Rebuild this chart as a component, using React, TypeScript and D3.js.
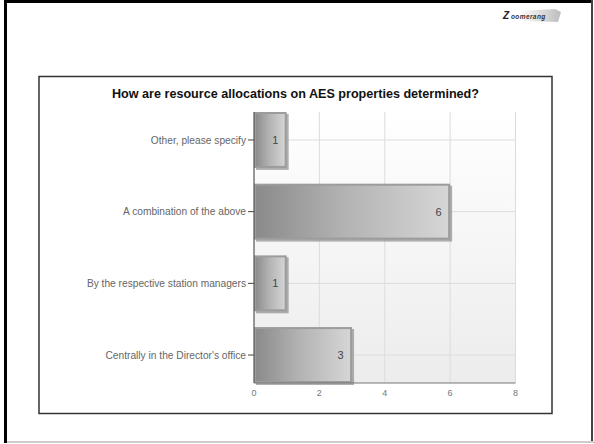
import * as d3 from 'd3';

const categories = [
  'Other, please specify',
  'A combination of the above',
  'By the respective station managers',
  "Centrally in the Director's office",
];
const counts = [1, 6, 1, 3];
const xTicks = [0, 2, 4, 6, 8];
const title = 'How are resource allocations on AES properties determined?';

const W = 594;
const H = 444;
const plot = { left: 254, right: 515.5, top: 112, bottom: 383 };
const font = 'Arial, "Liberation Sans", sans-serif';

export default function App() {
  const x = d3.scaleLinear().domain([0, 8]).range([plot.left, plot.right]);
  const y = d3
    .scaleBand<string>()
    .domain(categories)
    .range([plot.top, plot.bottom])
    .paddingInner(0.22)
    .paddingOuter(0);
  const bw = y.bandwidth();
  const data = categories.map((c, i) => ({ label: c, value: counts[i] }));

  return (
    <svg
      width={W}
      height={H}
      style={{ position: 'absolute', left: 0, top: 0, background: '#fff' }}
      fontFamily={font}
    >
      <defs>
        <linearGradient id="barGrad" x1="0" x2="1" y1="0" y2="0">
          <stop offset="0" stopColor="#8a8a8a" />
          <stop offset="0.45" stopColor="#b2b2b2" />
          <stop offset="1" stopColor="#d6d6d6" />
        </linearGradient>
        <linearGradient id="plotGrad" x1="0" x2="0" y1="0" y2="1">
          <stop offset="0" stopColor="#ffffff" />
          <stop offset="1" stopColor="#ececec" />
        </linearGradient>
        <linearGradient id="logoGrad" x1="0" x2="1" y1="0" y2="0">
          <stop offset="0" stopColor="#ffffff" />
          <stop offset="1" stopColor="#bdbdbd" />
        </linearGradient>
      </defs>

      {/* slide frame */}
      <line x1={5.5} x2={5.5} y1={0} y2={443} stroke="#000" strokeWidth={3} />
      <line x1={4} x2={593} y1={1.5} y2={1.5} stroke="#000" strokeWidth={3} />
      <line x1={592} x2={592} y1={0} y2={441} stroke="#444" strokeWidth={2} />
      <line x1={7} x2={594} y1={442} y2={442} stroke="#ccc" strokeWidth={2} />

      {/* logo */}
      <g transform="translate(503,8)">
        <path d="M16,3 L52,1 L58,4 L55,14 L18,13 Z" fill="url(#logoGrad)" />
        <text x={0} y={11} fontSize={10} fontWeight="bold" fontStyle="italic" fill="#222">
          Z
        </text>
        <text x={8} y={11} fontSize={6.5} fontWeight="bold" fontStyle="italic" fill="#333" letterSpacing={0.4}>
          oomerang
        </text>
      </g>

      {/* chart box */}
      <rect x={39} y={76.5} width={513} height={337} fill="#fff" stroke="#333" strokeWidth={1.5} />

      <text x={295.5} y={98} textAnchor="middle" fontSize={12.6} fontWeight="bold" fill="#111">
        {title}
      </text>

      {/* plot background */}
      <rect
        x={plot.left}
        y={plot.top}
        width={plot.right - plot.left}
        height={plot.bottom - plot.top}
        fill="url(#plotGrad)"
      />

      {/* grid */}
      {xTicks.slice(1).map((t) => (
        <line key={t} x1={x(t)} x2={x(t)} y1={plot.top} y2={plot.bottom} stroke="#dcdcdc" />
      ))}
      {categories.map((c) => (
        <line
          key={c}
          x1={plot.left}
          x2={plot.right}
          y1={(y(c) ?? 0) + bw / 2}
          y2={(y(c) ?? 0) + bw / 2}
          stroke="#dcdcdc"
        />
      ))}

      {/* bars */}
      {data.map((d) => {
        const y0 = y(d.label) ?? 0;
        const w = x(d.value) - x(0);
        return (
          <g key={d.label}>
            <rect x={x(0) + 2} y={y0 + 2} width={w} height={bw} fill="#8f8f8f" opacity={0.7} />
            <rect
              x={x(0) + 1}
              y={y0 + 1}
              width={w - 2}
              height={bw - 2}
              fill="url(#barGrad)"
              stroke="#9c9c9c"
              strokeWidth={2}
            />
            <text
              x={x(d.value) - 11.5}
              y={y0 + bw / 2}
              dy="0.35em"
              textAnchor="middle"
              fontSize={11}
              fill="#444"
            >
              {d.value}
            </text>
          </g>
        );
      })}

      {/* axes */}
      <line x1={plot.left} x2={plot.left} y1={plot.top} y2={plot.bottom} stroke="#555" strokeWidth={1.2} />
      <line x1={plot.left} x2={plot.right} y1={plot.bottom} y2={plot.bottom} stroke="#777" strokeWidth={1.2} />

      {categories.map((c) => {
        const cy = (y(c) ?? 0) + bw / 2;
        return (
          <g key={c}>
            <line x1={plot.left - 6} x2={plot.left} y1={cy} y2={cy} stroke="#444" />
            <text x={plot.left - 8} y={cy} dy="0.35em" textAnchor="end" fontSize={10.2} fill="#666">
              {c}
            </text>
          </g>
        );
      })}

      {xTicks.map((t) => (
        <text key={t} x={x(t)} y={396} textAnchor="middle" fontSize={9} fill="#777">
          {t}
        </text>
      ))}
    </svg>
  );
}
